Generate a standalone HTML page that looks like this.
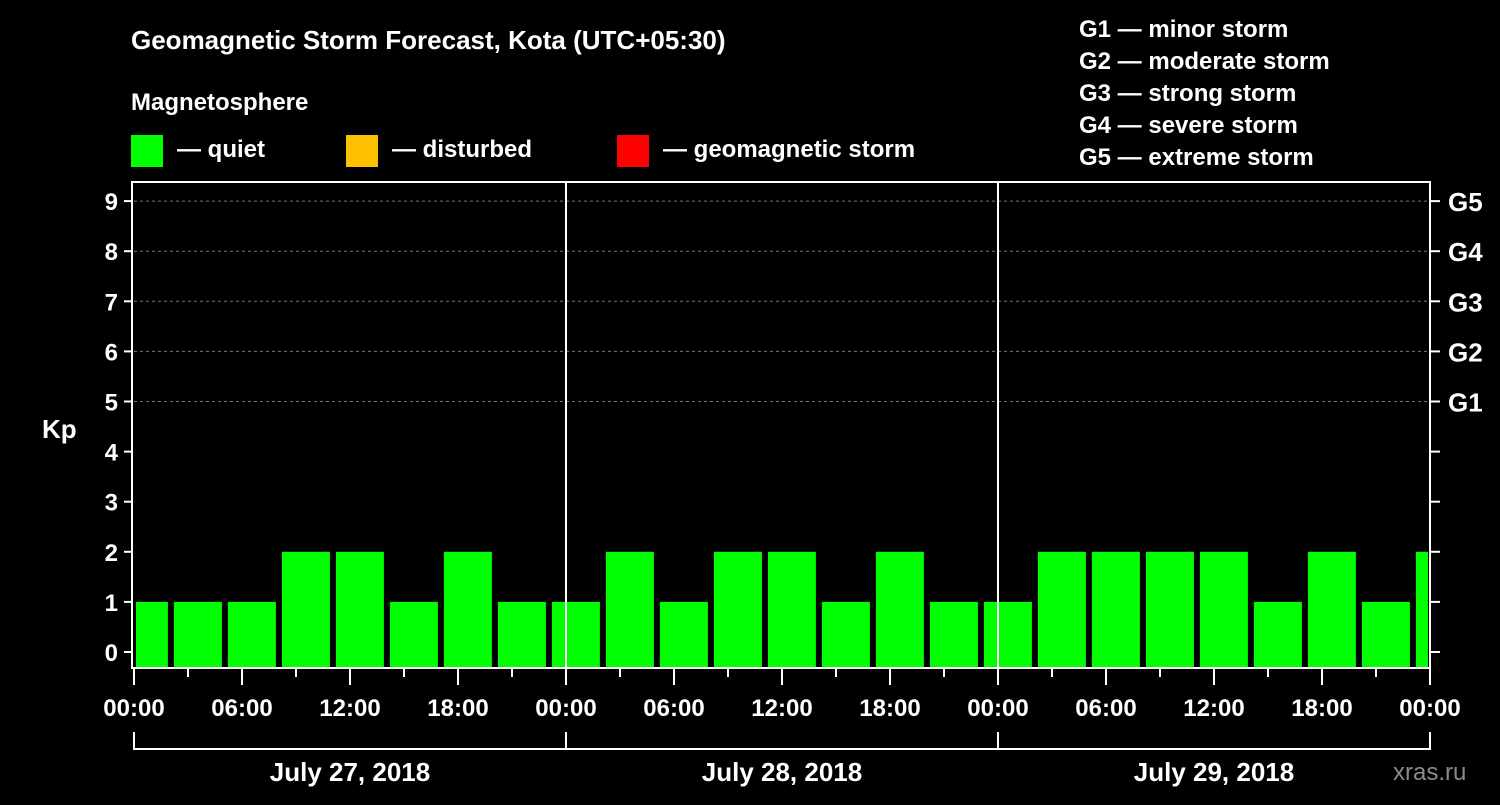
<!DOCTYPE html>
<html><head><meta charset="utf-8"><style>
body{margin:0;background:#000;width:1500px;height:800px;overflow:hidden}
svg text{font-family:"Liberation Sans",sans-serif;font-weight:bold;fill:#fff}
</style></head><body>
<svg id="c" width="1500" height="800" xmlns="http://www.w3.org/2000/svg">
<text x="131" y="49" font-size="26">Geomagnetic Storm Forecast, Kota (UTC+05:30)</text>
<text x="131" y="110" font-size="24">Magnetosphere</text>
<rect x="131" y="135" width="32" height="32" fill="#00ff00"/>
<text x="177" y="157" font-size="24">— quiet</text>
<rect x="346" y="135" width="32" height="32" fill="#ffc000"/>
<text x="392" y="157" font-size="24">— disturbed</text>
<rect x="617" y="135" width="32" height="32" fill="#ff0000"/>
<text x="663" y="157" font-size="24">— geomagnetic storm</text>
<g font-size="24">
<text x="1079" y="37">G1 — minor storm</text>
<text x="1079" y="69">G2 — moderate storm</text>
<text x="1079" y="101">G3 — strong storm</text>
<text x="1079" y="133">G4 — severe storm</text>
<text x="1079" y="165">G5 — extreme storm</text>
</g>
<text x="42" y="438" font-size="26">Kp</text>
<text x="1393" y="780" font-size="24" fill="#888" style="fill:#8a8a8a;font-weight:normal">xras.ru</text>
<g id="g"></g>
</svg>
<script>
const values=[1,1,1,2,2,1,2,1,1,2,1,2,2,1,2,1,1,2,2,2,2,1,2,1,2];
const hourLabels=["00:00","06:00","12:00","18:00"];
const dayLabels=["July 27, 2018","July 28, 2018","July 29, 2018"];
const gLabels=["G1","G2","G3","G4","G5"];
const X0=134,DAY=432,TOP=182,BOT=668,XR=1430;
const y=v=>652-50.1*v;
const x=h=>X0+h*DAY/24;
const NS="http://www.w3.org/2000/svg",g=document.getElementById('g');
function mk(t,a,p){const e=document.createElementNS(NS,t);for(const k in a)e.setAttribute(k,a[k]);(p||g).appendChild(e);return e;}
// grid
for(let v=5;v<=9;v++){const l=mk('line',{x1:X0,x2:XR,y1:y(v),y2:y(v),stroke:'#777','stroke-dasharray':'3,3','stroke-width':1});

}
// bars: start offset ~2.05h
values.forEach((v,i)=>{const s=x(-0.95+3*i)+3,e=x(2.05+3*i)-3;
const a=Math.max(s,X0+2),b=Math.min(e,XR-2);
const r=mk('rect',{x:a,y:y(v),width:b-a,height:BOT-y(v),fill:'#00ff00'});

});
// day separators
for(let d=1;d<3;d++){const l=mk('line',{x1:x(24*d),x2:x(24*d),y1:TOP,y2:BOT,stroke:'#fff','stroke-width':2});

}
// frame
const fr=mk('rect',{x:X0-2,y:TOP,width:XR-X0+2,height:BOT-TOP,fill:'none',stroke:'#fff','stroke-width':2});


// y ticks
for(let v=0;v<=9;v++){mk('line',{x1:X0-10,x2:X0-2,y1:y(v),y2:y(v),stroke:'#fff','stroke-width':2});
mk('line',{x1:XR,x2:XR+10,y1:y(v),y2:y(v),stroke:'#fff','stroke-width':2});
const t=mk('text',{x:X0-16,y:y(v)+9,'font-size':24,'text-anchor':'end'});t.textContent=v;

}
gLabels.forEach((s,i)=>{const t=mk('text',{x:XR+18,y:y(5+i)+10,'font-size':26});t.textContent=s;

});
// x ticks
for(let h=0;h<=72;h+=3){const maj=h%6==0;mk('line',{x1:x(h),x2:x(h),y1:BOT,y2:BOT+(maj?17:9),stroke:'#fff','stroke-width':2});}
for(let h=0;h<=72;h+=6){const t=mk('text',{x:x(h),y:716,'font-size':24,'text-anchor':'middle'});t.textContent=hourLabels[(h/6)%4];

}
// date axis
mk('line',{x1:X0,x2:XR,y1:749,y2:749,stroke:'#fff','stroke-width':2});
for(let d=0;d<=3;d++)mk('line',{x1:x(24*d),x2:x(24*d),y1:732,y2:750,stroke:'#fff','stroke-width':2});
dayLabels.forEach((s,d)=>{const t=mk('text',{x:x(24*d+12),y:781,'font-size':26,'text-anchor':'middle'});t.textContent=s;

});
</script>
</body></html>
